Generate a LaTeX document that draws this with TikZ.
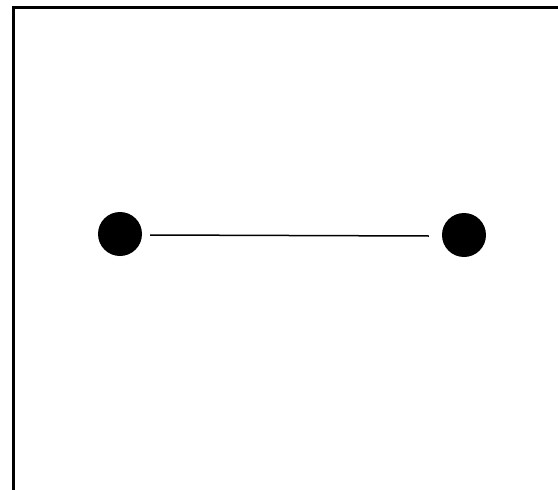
\documentclass[tikz,border=0pt]{standalone}
\usepackage{tikz}

\begin{document}
\begin{tikzpicture}[
    x=1pt, y=-1pt,
    dot/.style={circle, fill=black, draw=none, minimum size=44pt, inner sep=0pt},
    edge/.style={line width=1.5pt}
]
\useasboundingbox (0,0) rectangle (558,490);
\draw[line width=3pt] (13,492) -- (13,7) -- (560,7);
\node[dot] (left) at (120,234) {};
\node[dot] (right) at (464,235) {};
\draw[edge] ([xshift=8pt,yshift=-1pt]left.east) -- ([xshift=-13pt,yshift=-1pt]right.west);
\end{tikzpicture}
\end{document}
